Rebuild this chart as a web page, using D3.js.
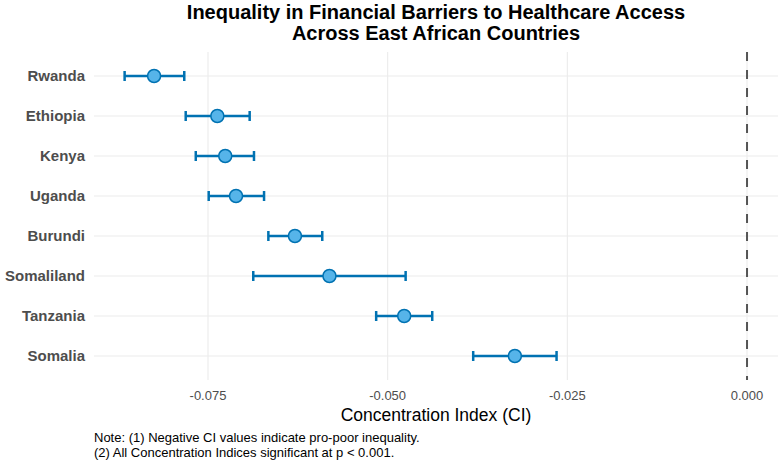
<!DOCTYPE html>
<html>
<head>
<meta charset="utf-8">
<script src="https://cdn.jsdelivr.net/npm/d3@7"></script>
<style>
  body { margin: 0; background: #fff; }
  text { font-family: "Liberation Sans", Arial, sans-serif; }
</style>
</head>
<body>
<script>
'use strict';

// country order, top to bottom
const countries = ["Rwanda", "Ethiopia", "Kenya", "Uganda", "Burundi", "Somaliland", "Tanzania", "Somalia"];
// concentration index estimates and 95% CI bounds
const ciValues = [-0.0825, -0.0737, -0.0726, -0.0711, -0.0629, -0.0581, -0.0477, -0.0323];
const ciLower  = [-0.0866, -0.0781, -0.0767, -0.0749, -0.0666, -0.0687, -0.0516, -0.0381];
const ciUpper  = [-0.0783, -0.0692, -0.0686, -0.0672, -0.0591, -0.0475, -0.0438, -0.0265];
const xTicks = [-0.075, -0.050, -0.025, 0.000];

(function() {
  const width = 782, height = 463;
  const margin = { left: 94, right: 4, top: 52, bottom: 83 };
  const midX = (margin.left + width - margin.right) / 2;

  let svg = d3.select('body').append('svg')
    .attr('width', width)
    .attr('height', height);

  // x scale: panel spans about -0.0909 .. 0.0043
  let x = d3.scaleLinear()
    .domain([-0.09086, 0.00431])
    .range([margin.left, width - margin.right]);

  let y = d3.scalePoint()
    .domain(countries)
    .range([margin.top, height - margin.bottom])
    .padding(0.6);

  let data = countries.map((c, i) => ({ name: c, v: ciValues[i], lo: ciLower[i], hi: ciUpper[i] }));

  // grid lines
  svg.append('g').selectAll('line.vg')
    .data(xTicks)
    .enter().append('line')
      .attr('x1', d => x(d)).attr('x2', d => x(d))
      .attr('y1', margin.top).attr('y2', height - margin.bottom)
      .attr('stroke', '#ebebeb').attr('stroke-width', 1.1);

  svg.append('g').selectAll('line.hg')
    .data(countries)
    .enter().append('line')
      .attr('x1', margin.left).attr('x2', width - margin.right)
      .attr('y1', d => y(d)).attr('y2', d => y(d))
      .attr('stroke', '#ebebeb').attr('stroke-width', 1.1);

  // reference line at zero
  svg.append('line')
    .attr('x1', x(0)).attr('x2', x(0))
    .attr('y1', margin.top).attr('y2', height - margin.bottom)
    .attr('stroke', '#555555')
    .attr('stroke-width', 2)
    .attr('stroke-dasharray', '9,9');

  // error bars
  let bars = svg.append('g').selectAll('g')
    .data(data)
    .enter().append('g')
      .attr('stroke', '#0072B2')
      .attr('stroke-width', 2.5);

  bars.append('line')
    .attr('x1', d => x(d.lo)).attr('x2', d => x(d.hi))
    .attr('y1', d => y(d.name)).attr('y2', d => y(d.name));
  bars.append('line')
    .attr('x1', d => x(d.lo)).attr('x2', d => x(d.lo))
    .attr('y1', d => y(d.name) - 5).attr('y2', d => y(d.name) + 5);
  bars.append('line')
    .attr('x1', d => x(d.hi)).attr('x2', d => x(d.hi))
    .attr('y1', d => y(d.name) - 5).attr('y2', d => y(d.name) + 5);

  // points
  svg.append('g').selectAll('circle')
    .data(data)
    .enter().append('circle')
      .attr('cx', d => x(d.v))
      .attr('cy', d => y(d.name))
      .attr('r', 6.5)
      .attr('fill', '#56B4E9')
      .attr('stroke', '#0072B2')
      .attr('stroke-width', 1.5);

  // y labels
  svg.append('g').selectAll('text')
    .data(countries)
    .enter().append('text')
      .attr('x', margin.left - 9)
      .attr('y', d => y(d))
      .attr('dy', '0.36em')
      .attr('text-anchor', 'end')
      .style('font-size', '15px')
      .style('font-weight', 'bold')
      .style('fill', '#4d4d4d')
      .text(d => d);

  // x tick labels
  svg.append('g').selectAll('text')
    .data(xTicks)
    .enter().append('text')
      .attr('x', d => x(d))
      .attr('y', 400)
      .attr('text-anchor', 'middle')
      .style('font-size', '13px')
      .style('fill', '#4d4d4d')
      .text(d => d3.format('.3f')(d).replace('−', '-'));

  // axis title
  svg.append('text')
    .attr('x', midX)
    .attr('y', 421)
    .attr('text-anchor', 'middle')
    .style('font-size', '17.5px')
    .style('fill', '#000')
    .text('Concentration Index (CI)');

  // title
  let title = svg.append('text')
    .attr('text-anchor', 'middle')
    .style('font-size', '20px')
    .style('font-weight', 'bold');
  title.append('tspan')
    .attr('x', midX).attr('y', 19)
    .text('Inequality in Financial Barriers to Healthcare Access');
  title.append('tspan')
    .attr('x', midX).attr('y', 40)
    .text('Across East African Countries');

  // caption
  let note = svg.append('text')
    .style('font-size', '13px')
    .style('fill', '#000');
  note.append('tspan').attr('x', 94).attr('y', 442)
    .text('Note: (1) Negative CI values indicate pro-poor inequality.');
  note.append('tspan').attr('x', 94).attr('y', 457)
    .text('(2) All Concentration Indices significant at p < 0.001.');
})();
</script>
</body>
</html>
